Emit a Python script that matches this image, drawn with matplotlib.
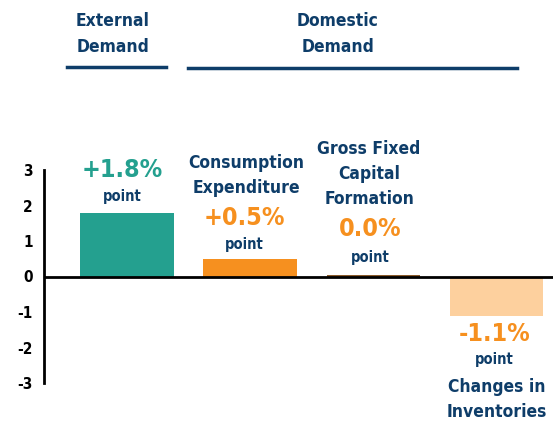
import matplotlib
matplotlib.use("Agg")
import matplotlib.pyplot as plt
from matplotlib.lines import Line2D

plt.rcParams['font.family'] = ['DejaVu Sans']
plt.rcParams['font.stretch'] = 'condensed'

# data
categories = ["", "Consumption\nExpenditure", "Gross Fixed\nCapital\nFormation", "Changes in\nInventories"]
values = [1.8, 0.5, 0.0, -1.1]
value_labels = ["+1.8%", "+0.5%", "0.0%", "-1.1%"]
bar_colors = ["#24a08f", "#f6901f", "#f6901f", "#fdd09e"]
label_colors = ["#24a08f", "#f6901f", "#f6901f", "#f6901f"]
yticks = [-3, -2, -1, 0, 1, 2, 3]
groups = ["External\nDemand", "Domestic\nDemand"]

navy = "#0e3d69"
# small horizontal nudge of the value labels (points)
dx = [-3.5, -4.5, -2, -1.5]

fig = plt.figure(figsize=(5.53, 4.21), dpi=100)
ax = fig.add_axes([44 / 553, 1 - 383 / 421, 1 - 44 / 553, (383 - 170) / 421])

x = list(range(len(values)))
ax.bar(x, values, width=0.76, color=bar_colors, zorder=2)
ax.bar(x[2], 0.03, width=0.76, color="#8a5a2a", zorder=2)

ax.set_xlim(-0.675, 3.46)
ax.set_ylim(-3, 3)
ax.axhline(0, color="black", linewidth=2, zorder=3)

for s in ["top", "right", "bottom"]:
    ax.spines[s].set_visible(False)
ax.spines["left"].set_linewidth(2)
ax.set_xticks([])
ax.set_yticks(yticks)
ax.set_yticklabels([str(t) for t in yticks])
ax.tick_params(axis="y", length=0, pad=8, labelsize=11)
for t in ax.get_yticklabels():
    t.set_fontweight("bold")

# value labels, "point" and category names
for i, v in enumerate(values):
    if v >= 0:
        offs = [31, 11.5]
        if i == 2:
            offs = [34, 14]
        if i == 1:
            offs = [29.5, 10]
        ax.annotate(value_labels[i], (i, v), xytext=(dx[i], offs[0]), textcoords="offset points",
                    ha="center", va="center", fontsize=18, fontweight="bold",
                    color=label_colors[i], annotation_clip=False)
        ax.annotate("point", (i, v), xytext=(dx[i], offs[1]), textcoords="offset points",
                    ha="center", va="center", fontsize=10.5, fontweight="bold",
                    color=navy, annotation_clip=False)
        if categories[i]:
            ax.annotate(categories[i], (i, v), xytext=(-3, offs[0] + 15), textcoords="offset points",
                        ha="center", va="bottom", fontsize=12.5, fontweight="bold",
                        color=navy, linespacing=1.5, annotation_clip=False)
    else:
        ax.annotate(value_labels[i], (i, v), xytext=(dx[i], -13), textcoords="offset points",
                    ha="center", va="center", fontsize=18, fontweight="bold",
                    color=label_colors[i], annotation_clip=False)
        ax.annotate("point", (i, v), xytext=(dx[i], -32), textcoords="offset points",
                    ha="center", va="center", fontsize=10.5, fontweight="bold",
                    color=navy, annotation_clip=False)
        ax.annotate(categories[i], (i, v), xytext=(0, -45), textcoords="offset points",
                    ha="center", va="top", fontsize=12.5, fontweight="bold",
                    color=navy, linespacing=1.5, annotation_clip=False)

# group headers
fig.text(113 / 553, 1 - 34 / 421, groups[0], ha="center", va="center", fontsize=12.5,
         fontweight="bold", color=navy, linespacing=1.5)
fig.text(338 / 553, 1 - 34 / 421, groups[1], ha="center", va="center", fontsize=12.5,
         fontweight="bold", color=navy, linespacing=1.5)
fig.add_artist(Line2D([67 / 553, 166 / 553], [1 - 66.5 / 421] * 2, color=navy, linewidth=2.5))
fig.add_artist(Line2D([188 / 553, 517 / 553], [1 - 67.5 / 421] * 2, color=navy, linewidth=2.5))

fig.savefig("out.png", dpi=100)
